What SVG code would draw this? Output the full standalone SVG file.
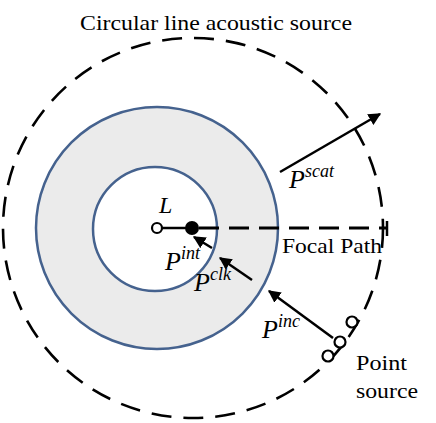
<svg xmlns="http://www.w3.org/2000/svg" width="436" height="423" viewBox="0 0 436 423">
<style>
.t{font-family:"Liberation Serif","Times New Roman",serif;fill:#000}
.lbl{font-size:21px}
.p{font-size:26px;font-style:italic}
.sup{font-size:18px;font-style:italic}
.ring{stroke:#45628E;stroke-width:2.5}
.arr{stroke:#000;stroke-width:2.5;fill:none;marker-end:url(#ah)}
</style>
<defs>
<marker id="ah" viewBox="0 0 10 10" refX="9" refY="5" markerWidth="5" markerHeight="5" orient="auto" markerUnits="strokeWidth">
<path d="M0,0 L10,5 L0,10 z" fill="#000"/>
</marker>
</defs>
<rect width="436" height="423" fill="#fff"/>
<g id="outer-source">
<circle cx="193" cy="228" r="190" fill="none" stroke="#000" stroke-width="2.6" stroke-dasharray="20 12"/>
</g>
<g id="gray-ring">
<circle class="ring" cx="157" cy="228" r="121" fill="#EBEBEB"/>
</g>
<g id="inner-circle">
<circle class="ring" cx="155" cy="229" r="62" fill="#fff"/>
</g>
<g id="connectors">
<line x1="162" y1="228" x2="186" y2="228" stroke="#000" stroke-width="2.5"/>
<line x1="199" y1="228" x2="387" y2="228" stroke="#000" stroke-width="2.8" stroke-dasharray="20 10"/>
<line x1="387" y1="221" x2="387" y2="236" stroke="#000" stroke-width="2.5"/>
<line class="arr" x1="212" y1="248" x2="194" y2="237"/>
<line class="arr" x1="252" y1="280" x2="220" y2="258"/>
<line class="arr" x1="333" y1="338" x2="269" y2="291"/>
<line class="arr" x1="280" y1="172" x2="380" y2="114"/>
</g>
<g id="L-point">
<circle cx="157" cy="228" r="5" fill="#fff" stroke="#000" stroke-width="2.2"/>
<text class="t" x="159" y="213" font-size="24" font-style="italic">L</text>
</g>
<g id="focal-point">
<circle cx="192" cy="228" r="7" fill="#000"/>
</g>
<g id="point-sources">
<circle cx="352" cy="322" r="5.5" fill="#fff" stroke="#000" stroke-width="2.2"/>
<circle cx="340" cy="342" r="5.5" fill="#fff" stroke="#000" stroke-width="2.2"/>
<circle cx="328" cy="356" r="5.5" fill="#fff" stroke="#000" stroke-width="2.2"/>
</g>
<g id="labels">
<text class="t lbl" x="80" y="30" font-size="22" textLength="272" lengthAdjust="spacingAndGlyphs">Circular line acoustic source</text>
<text class="t lbl" x="282" y="253" textLength="100" lengthAdjust="spacingAndGlyphs">Focal Path</text>
<text class="t lbl" x="356" y="370" textLength="51" lengthAdjust="spacingAndGlyphs">Point</text>
<text class="t lbl" x="356" y="398" textLength="62" lengthAdjust="spacingAndGlyphs">source</text>
<text class="t" x="165" y="270"><tspan class="p">P</tspan><tspan class="sup" dy="-11">int</tspan></text>
<text class="t" x="194" y="291"><tspan class="p">P</tspan><tspan class="sup" dy="-11">clk</tspan></text>
<text class="t" x="262" y="338"><tspan class="p">P</tspan><tspan class="sup" dy="-11">inc</tspan></text>
<text class="t" x="289" y="188"><tspan class="p">P</tspan><tspan class="sup" dy="-11">scat</tspan></text>
</g>
</svg>
